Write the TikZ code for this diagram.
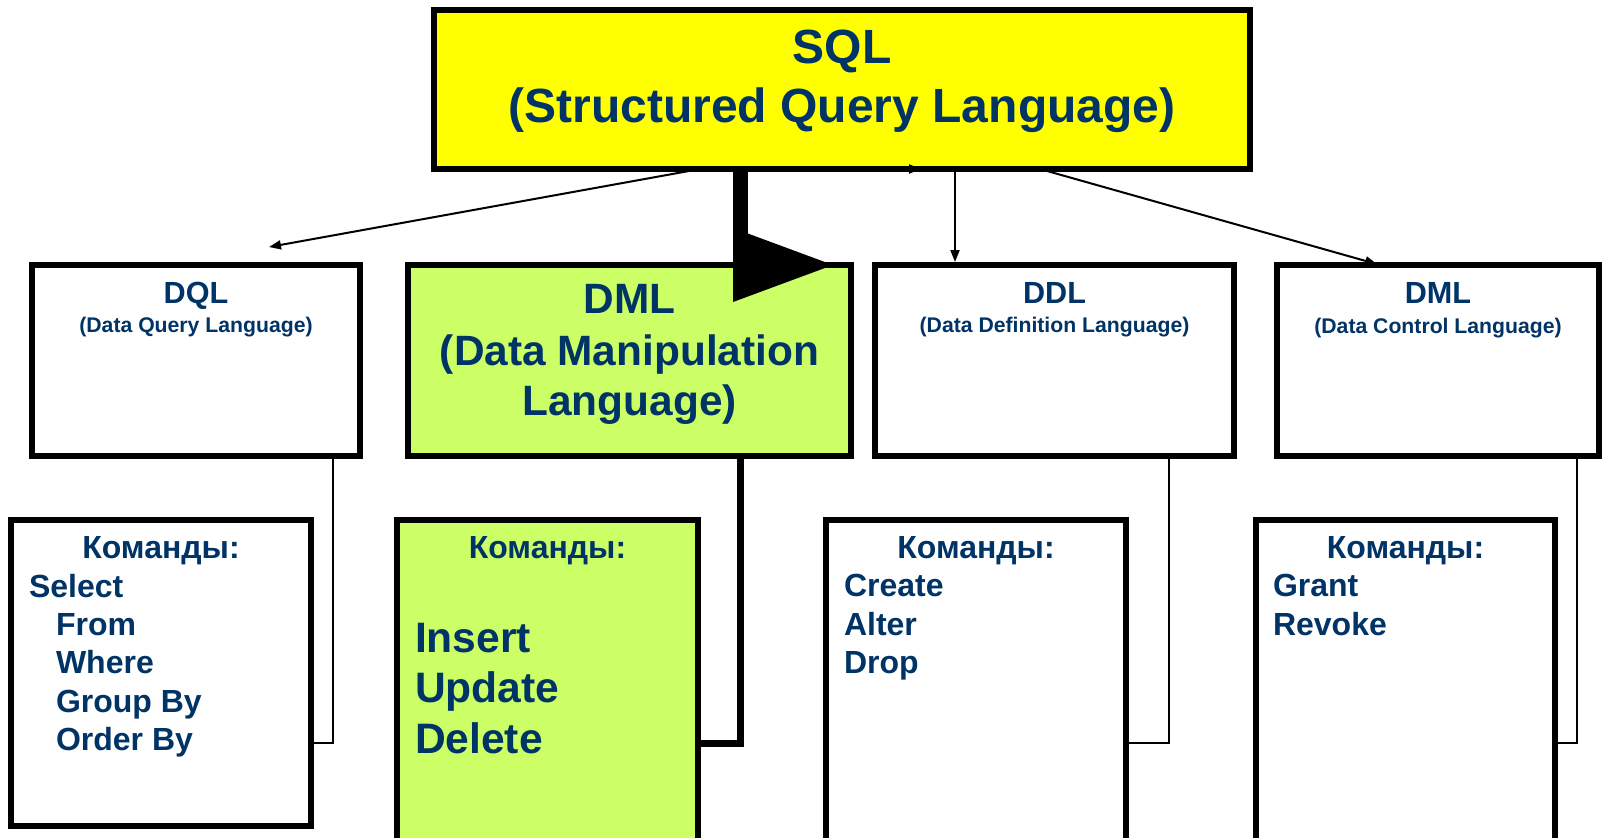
\documentclass[tikz,border=0pt]{standalone}
\usepackage{fontspec}
\setmainfont{Liberation Sans}
\usetikzlibrary{arrows.meta}
\definecolor{ink}{RGB}{0,51,102}
\definecolor{sqlyellow}{RGB}{255,255,0}
\definecolor{dmlgreen}{RGB}{204,255,102}

\begin{document}
\begin{tikzpicture}[x=0.5pt,y=-0.5pt,
  box/.style={draw=black, line width=3pt, inner sep=0pt, outer sep=0pt},
  label/.style={inner sep=0pt, outer sep=0pt, text=ink},
  rootfont/.style={label, font=\fontsize{24pt}{28pt}\selectfont\bfseries},
  headfont/.style={label, font=\fontsize{15.3pt}{18pt}\selectfont\bfseries},
  komfont/.style={label, font=\fontsize{16pt}{19pt}\selectfont\bfseries},
  mainhead/.style={label, font=\fontsize{21.2pt}{25pt}\selectfont\bfseries},
  subfont/.style={label, font=\fontsize{10.6pt}{13pt}\selectfont\bfseries},
  cmdfont/.style={label, font=\fontsize{16pt}{19pt}\selectfont\bfseries},
  bigcmd/.style={label, font=\fontsize{21.3pt}{25pt}\selectfont\bfseries},
  thinline/.style={draw=black, line width=1pt},
  tipline/.style={thinline, -{Triangle[length=6pt,width=4.5pt]}}]

\useasboundingbox (0,0) rectangle (1604,837);
\clip (0,0) rectangle (1604,837);
\fill[white] (0,0) rectangle (1604,837);

% ---- boxes ----
\node[box, fill=sqlyellow, minimum width=408pt, minimum height=79.5pt] (sql) at (842,89.5) {};
\node[box, fill=white, minimum width=164pt, minimum height=95.5pt] (dql) at (196,360.5) {};
\node[box, fill=dmlgreen, minimum width=221.5pt, minimum height=95.5pt] (dml) at (629.5,360.5) {};
\node[box, fill=white, minimum width=179.5pt, minimum height=95.5pt] (ddl) at (1054.5,360.5) {};
\node[box, fill=white, minimum width=161pt, minimum height=95.5pt] (dcl) at (1438,360.5) {};
\node[box, fill=white, minimum width=150pt, minimum height=153pt] (dqlc) at (161,673) {};
\node[box, fill=dmlgreen, minimum width=150.5pt, minimum height=164pt] (dmlc) at (547.5,684) {};
\node[box, fill=white, minimum width=150pt, minimum height=160.5pt] (ddlc) at (976,680.5) {};
\node[box, fill=white, minimum width=149.5pt, minimum height=160.5pt] (dclc) at (1405.5,680.5) {};

% ---- helper coordinates ----
\coordinate (xdql) at (700,0);
\coordinate (dqltip) at (269,247);
\coordinate (xddl) at (955,0);
\coordinate (xdcl) at (1040,0);
\coordinate (xdcltip) at (1380,0);
\coordinate (xmark) at (901,0);
\coordinate (xmarktip) at (921,0);
\coordinate (xdml) at (740,0);
\coordinate (dmlknee) at (740,265);
\coordinate (ylow) at (0,743);
\coordinate (xq) at (333,0);
\coordinate (xd) at (1169,0);
\coordinate (xc) at (1577,0);

% ---- connectors from SQL ----
\draw[tipline] (sql.south -| xdql) -- (dqltip);
\draw[tipline, shorten >=1.5pt] (sql.south -| xddl) -- (ddl.north -| xddl);
\draw[tipline, shorten >=1.5pt] (sql.south -| xdcl) -- (dcl.north -| xdcltip);
\draw[tipline] (sql.south -| xmark) -- (sql.south -| xmarktip);
\draw[line width=7.5pt] (sql.south -| xdml) -- (dmlknee);
\fill[black] (dmlknee) ++(-7,-37) -- ++(100,37) -- ++(-100,37) -- cycle;

% ---- connectors to command boxes ----
\draw[thinline] (dql.south -| xq) |- (dqlc.east |- ylow);
\draw[line width=3.5pt] (dml.south -| xdml) |- (dmlc.east |- ylow);
\draw[thinline] (ddl.south -| xd) |- (ddlc.east |- ylow);
\draw[thinline] (dcl.south -| xc) |- (dclc.east |- ylow);

% ---- titles ----
\node[rootfont, anchor=base] (t-sql1) at (842,63) {SQL};
\node[rootfont, anchor=base] (t-sql2) at (842,122) {(Structured Query Language)};

\node[headfont, anchor=base] (t-dql1) at (196,303) {DQL};
\node[subfont, anchor=base] (t-dql2) at (196,332) {(Data Query Language)};

\node[mainhead, anchor=base] (t-dml1) at (629.5,313) {DML};
\node[mainhead, anchor=base] (t-dml2) at (629.5,365) {(Data Manipulation};
\node[mainhead, anchor=base] (t-dml3) at (629.5,415) {Language)};

\node[headfont, anchor=base] (t-ddl1) at (1054.5,303) {DDL};
\node[subfont, anchor=base] (t-ddl2) at (1054.5,332) {(Data Definition Language)};

\node[headfont, anchor=base] (t-dcl1) at (1438,303) {DML};
\node[subfont, anchor=base] (t-dcl2) at (1438,333) {(Data Control Language)};

% ---- command lists ----
\node[komfont, anchor=base] (k-dql) at (161,558) {Команды:};
\node[cmdfont, anchor=base west] (c-sel) at (29,597) {Select};
\node[cmdfont, anchor=base west] (c-from) at (56,635) {From};
\node[cmdfont, anchor=base west] (c-where) at (56,673) {Where};
\node[cmdfont, anchor=base west] (c-group) at (56,712) {Group By};
\node[cmdfont, anchor=base west] (c-order) at (56,750) {Order By};

\node[komfont, anchor=base] (k-dml) at (547.5,558) {Команды:};
\node[bigcmd, anchor=base west] (c-ins) at (415,652) {Insert};
\node[bigcmd, anchor=base west] (c-upd) at (415,702) {Update};
\node[bigcmd, anchor=base west] (c-del) at (415,753) {Delete};

\node[komfont, anchor=base] (k-ddl) at (976,558) {Команды:};
\node[cmdfont, anchor=base west] (c-create) at (844,596) {Create};
\node[cmdfont, anchor=base west] (c-alter) at (844,635) {Alter};
\node[cmdfont, anchor=base west] (c-drop) at (844,673) {Drop};

\node[komfont, anchor=base] (k-dcl) at (1405.5,558) {Команды:};
\node[cmdfont, anchor=base west] (c-grant) at (1273,596) {Grant};
\node[cmdfont, anchor=base west] (c-revoke) at (1273,635) {Revoke};

\end{tikzpicture}
\end{document}
